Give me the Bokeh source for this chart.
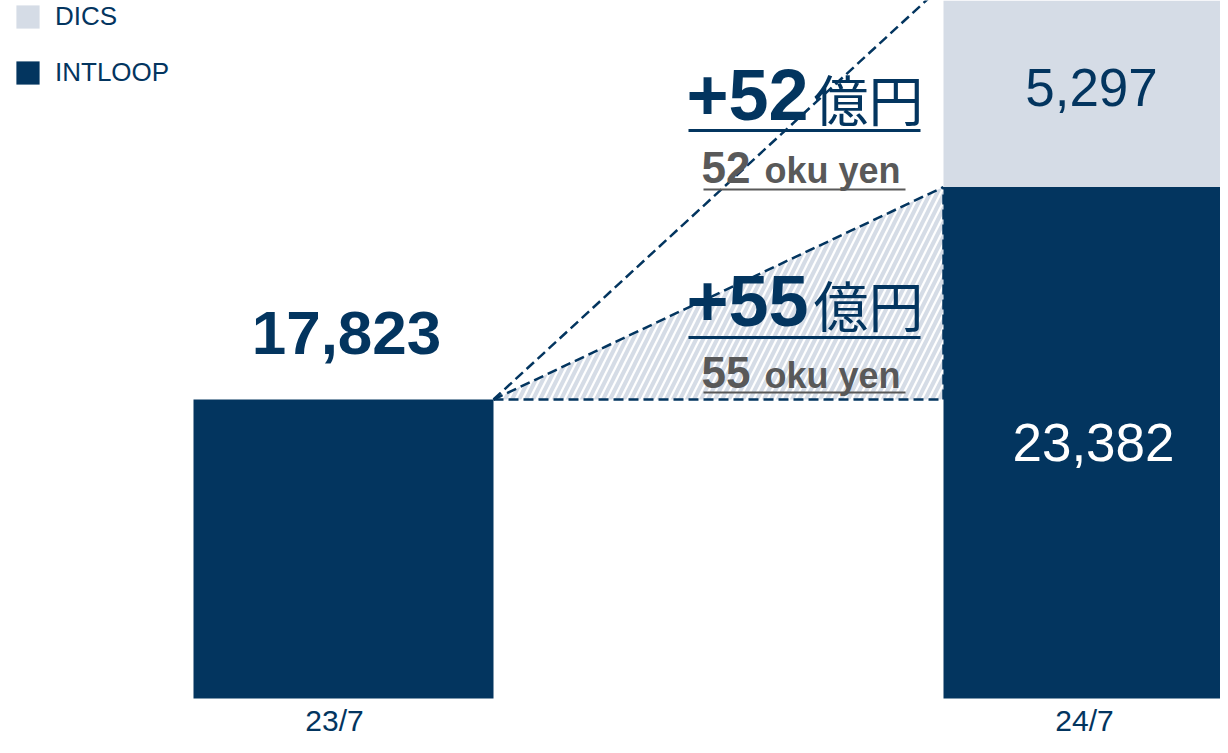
from bokeh.plotting import figure
from bokeh.models import Range1d, Legend, LegendItem, ColumnDataSource
from bokeh.core.properties import value
from bokeh.embed import file_html
from bokeh.resources import INLINE

# ---------------- data ----------------
periods = ["23/7", "24/7"]
intloop = [17823, 23382]
dics = [0, 5297]
series = ["DICS", "INTLOOP"]
unit_small = "oku yen"
unit_jp = "億円"

# ---------------- style / layout ----------------
NAVY = "#03355F"
LIGHT = "#D5DCE6"
GRAY = "#595959"
FONT = "Liberation Sans"
CJK = "Noto Sans CJK JP"

W, H = 1220, 737
X_START = -343 / 300.0
X_END = X_START + W / 300.0
Y_START, Y_END = 8980, 28262
BAR_BASE = 10000
STEP = 2.5
BAR_W = 1.0
MID = 0.3465  # middle-of-em offset for Liberation Sans


def px_x(px):
    return X_START + px / W * (X_END - X_START)


def px_y(py):
    return Y_END - py / H * (Y_END - Y_START)


def mid(baseline, size):
    return baseline - MID * size


x_pos = [i * STEP for i in range(len(periods))]
tops_total = [a + b for a, b in zip(intloop, dics)]

p = figure(width=W, height=H, output_backend="svg", toolbar_location=None,
           x_range=Range1d(X_START, X_END), y_range=Range1d(Y_START, Y_END),
           x_axis_location=None, y_axis_location=None,
           min_border=0, outline_line_color=None)
p.xgrid.visible = False
p.ygrid.visible = False
p.background_fill_color = "white"
p.border_fill_color = "white"

# ---------------- bridge (hatched triangle + dashed lines) ----------------
xa = x_pos[0] + BAR_W / 2
xb = x_pos[1] - BAR_W / 2
p.patch(x=[xa, xb, xb], y=[intloop[0], intloop[0], intloop[1]],
        fill_color=None, line_color=None,
        hatch_pattern="/", hatch_color=LIGHT, hatch_weight=4, hatch_scale=14)

p.segment(x0=[xa, xa, xa, xb], y0=[intloop[0]] * 4,
          x1=[xb, xb, xb, xb], y1=[intloop[0], intloop[1], tops_total[1], intloop[1]],
          line_color=NAVY, line_width=2.5, line_dash="10 5")

# ---------------- bars ----------------
src = ColumnDataSource(dict(x=x_pos, intloop=intloop, dics_top=tops_total,
                            base=[BAR_BASE] * len(x_pos)))
r_int = p.vbar(x="x", top="intloop", bottom="base", width=BAR_W, source=src,
               fill_color=NAVY, line_color=None)
r_dics = p.vbar(x="x", top="dics_top", bottom="intloop", width=BAR_W, source=src,
                fill_color=LIGHT, line_color=None)

# ---------------- value labels ----------------
p.text(x=[x_pos[0]], y=[intloop[0]], text=[f"{intloop[0]:,}"],
       text_font=value(FONT), text_font_style="bold", text_font_size="62px",
       text_color=NAVY, text_align="center", text_baseline="middle",
       x_offset=3, y_offset=-67)
p.text(x=[x_pos[1]], y=[(BAR_BASE + intloop[1]) / 2], text=[f"{intloop[1]:,}"],
       text_font=value(FONT), text_font_size="53px",
       text_color="white", text_align="center", text_baseline="middle", y_offset=0)
p.text(x=[x_pos[1]], y=[intloop[1] + dics[1] / 2], text=[f"{dics[1]:,}"],
       text_font=value(FONT), text_font_size="53px",
       text_color=NAVY, text_align="center", text_baseline="middle", x_offset=-2, y_offset=2)

# period labels
p.text(x=x_pos, y=[BAR_BASE] * len(x_pos), text=periods,
       text_font=value(FONT), text_font_size="30px", text_color=NAVY,
       text_align="center", text_baseline="middle", x_offset=-9, y_offset=22)

# ---------------- increase annotations ----------------
increments = [dics[1], intloop[1] - intloop[0]]
oku = [v // 100 for v in increments]
main_base = [119, 325]
main_ul = [130, 337]
cjk_mid = [96, 302]
sub_base = [182, 387]
sub_ul = [189, 392]

p.text(x=[px_x(686)] * 2, y=[px_y(mid(b, 72)) for b in main_base], text=[f"+{o}" for o in oku],
       text_font=value(FONT), text_font_style="bold", text_font_size="72px",
       text_color=NAVY, text_align="left", text_baseline="middle")
p.text(x=[px_x(813)] * 2, y=[px_y(c) for c in cjk_mid], text=[unit_jp] * 2,
       text_font=value(CJK), text_font_size="55px",
       text_color=NAVY, text_align="left", text_baseline="middle")
p.segment(x0=[px_x(688)] * 2, x1=[px_x(920)] * 2,
          y0=[px_y(u) for u in main_ul], y1=[px_y(u) for u in main_ul],
          line_color=NAVY, line_width=3)

p.text(x=[px_x(701)] * 2, y=[px_y(mid(b, 44)) for b in sub_base], text=[f"{o}" for o in oku],
       text_font=value(FONT), text_font_style="bold", text_font_size="44px",
       text_color=GRAY, text_align="left", text_baseline="middle")
p.text(x=[px_x(764)] * 2, y=[px_y(mid(b, 36)) for b in sub_base], text=[unit_small] * 2,
       text_font=value(FONT), text_font_style="bold", text_font_size="36px",
       text_color=GRAY, text_align="left", text_baseline="middle")
p.segment(x0=[px_x(703)] * 2, x1=[px_x(905)] * 2,
          y0=[px_y(u) for u in sub_ul], y1=[px_y(u) for u in sub_ul],
          line_color=GRAY, line_width=2)

# ---------------- legend ----------------
legend = Legend(items=[LegendItem(label=series[0], renderers=[r_dics]),
                       LegendItem(label=series[1], renderers=[r_int])],
                location=(13, 649), orientation="vertical",
                glyph_width=29, glyph_height=29, label_standoff=13, spacing=25,
                padding=0, margin=0, border_line_color=None, background_fill_alpha=0,
                label_text_font=FONT, label_text_font_size="26px",
                label_text_color=NAVY)
p.add_layout(legend)

open("out.html", "w").write(file_html(p, INLINE))
